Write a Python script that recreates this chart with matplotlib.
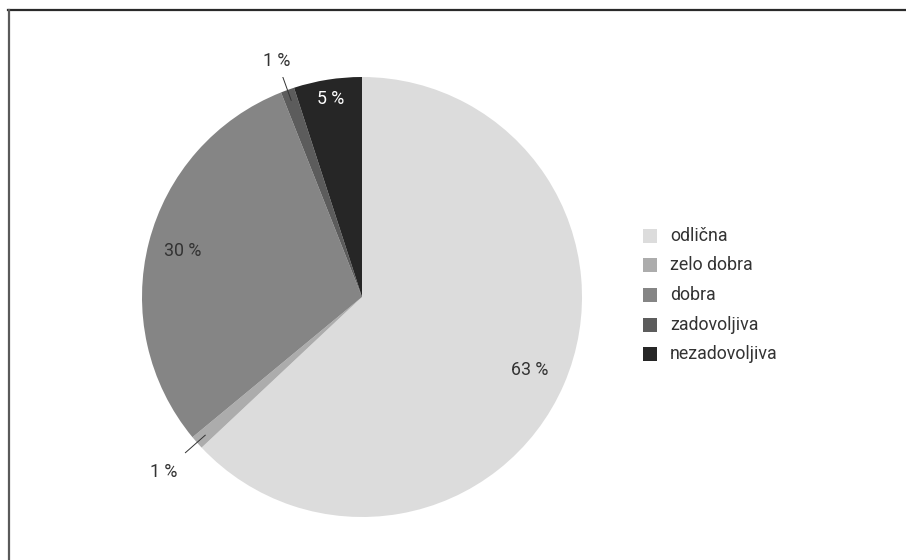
import numpy as np
import matplotlib.pyplot as plt
from matplotlib.lines import Line2D

# Ocene in deleži odgovorov
categories = ['odlična', 'zelo dobra', 'dobra', 'zadovoljiva', 'nezadovoljiva']
shares = [63, 1, 30, 1, 5]
colors = ['#dcdcdc', '#acacac', '#858585', '#5c5c5c', '#262626']

plt.rcParams['font.family'] = ['Roboto', 'DejaVu Sans']

W, H = 906, 560
fig = plt.figure(figsize=(W / 100, H / 100), dpi=100)

# okvir: samo zgornja in leva črta
fig.add_artist(Line2D([8 / W, 1], [1 - 9.5 / H, 1 - 9.5 / H], color='#2a2a2a', lw=1.6))
fig.add_artist(Line2D([8.5 / W, 8.5 / W], [0, 1 - 9.5 / H], color='#5a5a5a', lw=1.6))

cx, cy, r = 362, 297, 220
ax = fig.add_axes([(cx - r) / W, (H - cy - r) / H, 2 * r / W, 2 * r / H])
wedges, _ = ax.pie(shares, colors=colors, startangle=90, counterclock=False,
                   radius=1, wedgeprops=dict(linewidth=0))
ax.set_xlim(-1, 1)
ax.set_ylim(-1, 1)
ax.set_aspect('equal')
ax.axis('off')

fs = 12.8
text_color = '#333333'
# razdalje oznak od središča (v polmerih)
label_dist = [0.83, 1.2, 0.84, 1.14, 0.91]
for i, (w, val) in enumerate(zip(wedges, shares)):
    ang = np.deg2rad((w.theta1 + w.theta2) / 2)
    ca, sa = np.cos(ang), np.sin(ang)
    label = f'{val} %'
    d = label_dist[i]
    if d > 1:
        # majhni deleži: oznaka zunaj s črto
        ax.plot([0.95 * ca, 1.07 * ca], [0.95 * sa, 1.07 * sa], color='#333333', lw=0.7)
        ax.text(d * ca, d * sa, label, ha='center', va='center',
                fontsize=fs, color=text_color)
    else:
        tc = 'white' if i == len(shares) - 1 else text_color
        ax.text(d * ca, d * sa, label, ha='center', va='center',
                fontsize=fs, color=tc)

# legenda
leg_y0, leg_dy = 236, 29.5
for i, (cat, col) in enumerate(zip(categories, colors)):
    y = leg_y0 + i * leg_dy
    fig.patches.append(plt.Rectangle((643 / W, 1 - (y + 7) / H), 14 / W, 14 / H,
                                     transform=fig.transFigure, facecolor=col,
                                     edgecolor='none'))
    fig.text(670 / W, 1 - y / H, cat, ha='left', va='center', fontsize=fs,
             color=text_color)

fig.savefig('out.png', dpi=100)
